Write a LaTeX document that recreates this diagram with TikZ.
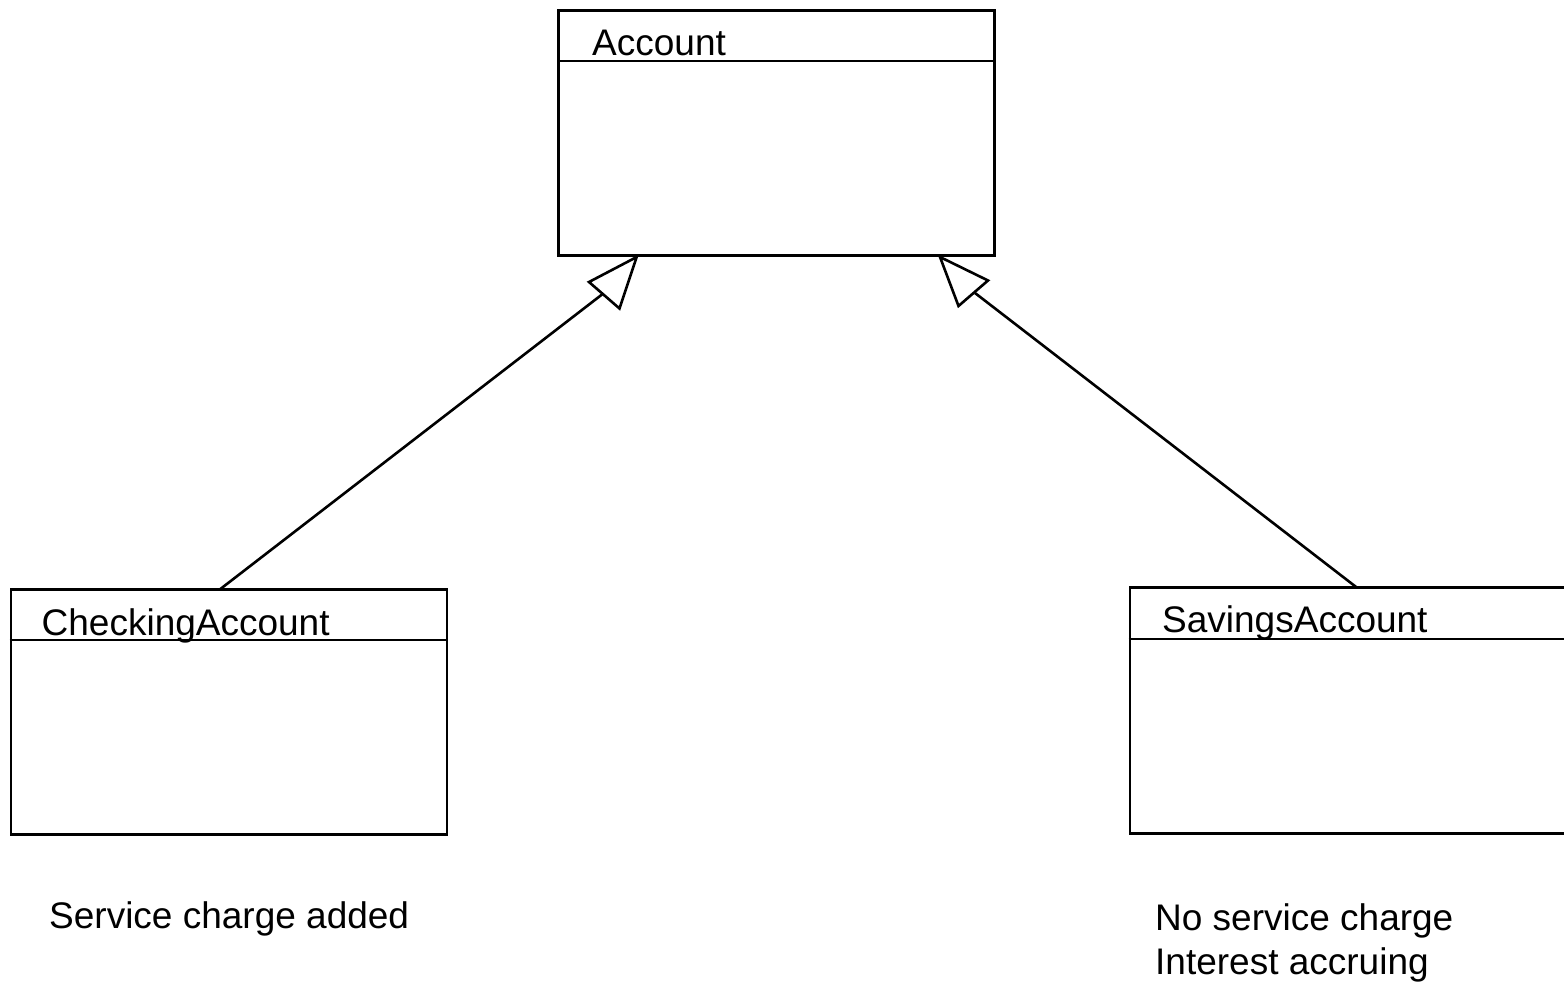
\documentclass[tikz,border=0pt]{standalone}
\usepackage{fontspec}
\setmainfont{Liberation Sans}
\tikzset{
  classbox/.style={draw=black, line width=2.8pt, fill=white, inner sep=0pt, minimum width=436pt, minimum height=245pt},
  classname/.style={anchor=base west, inner sep=0pt, font=\fontsize{37}{44}\selectfont},
  note/.style={anchor=base west, inner sep=0pt, font=\fontsize{37}{44}\selectfont},
  headline/.style={line width=2.6pt},
  inherit/.style={line width=2.6pt},
  openhead/.style={line width=2.6pt, line join=miter, fill=white, draw=black}
}
\begin{document}
\begin{tikzpicture}[x=1pt, y=-1pt]
\useasboundingbox[fill=white] (0,0) rectangle (1564,982);
% class boxes
\node[classbox] (acc) at (776.5,133) {};
\node[classbox] (chk) at (228.9,711.7) {};
\node[classbox, minimum height=246pt] (sav) at (1348,710.3) {};
% header separators
\draw[headline] ([yshift=-52pt]acc.north west) coordinate (accl) -- ([yshift=-52pt]acc.north east) coordinate (accr);
\draw[headline] ([yshift=-52pt]chk.north west) coordinate (chkl) -- ([yshift=-52pt]chk.north east) coordinate (chkr);
\draw[headline] ([yshift=-53pt]sav.north west) coordinate (savl) -- ([yshift=-53pt]sav.north east) coordinate (savr);
% class names
\node[classname] (accname) at (592,56) {Account};
\node[classname] (chkname) at (41.5,635) {CheckingAccount};
\node[classname] (savname) at (1162,632.7) {SavingsAccount};
% notes
\node[note] (chknote) at (49,928.3) {Service charge added};
\node[note] (savnote1) at (1155,930) {No service charge};
\node[note] (savnote2) at (1155,974) {Interest accruing};
% connector end points
\coordinate (chktop) at (220,589.3);
\coordinate (savtop) at (1356.5,587.3);
% left arrowhead
\coordinate (ltip) at (636.7,257);
\coordinate (lc1) at (589,282);
\coordinate (lc2) at (619.5,308.5);
\coordinate (lbase) at (602,294.5);
% right arrowhead
\coordinate (rtip) at (940,257);
\coordinate (rc1) at (988,280.5);
\coordinate (rc2) at (958.5,306);
\coordinate (rbase) at (975,293);
% generalizations
\draw[inherit] (chktop) -- (lbase);
\draw[inherit] (savtop) -- (rbase);
\draw[openhead] (ltip) -- (lc1) -- (lc2) -- cycle;
\draw[openhead] (rtip) -- (rc1) -- (rc2) -- cycle;
\end{tikzpicture}
\end{document}
